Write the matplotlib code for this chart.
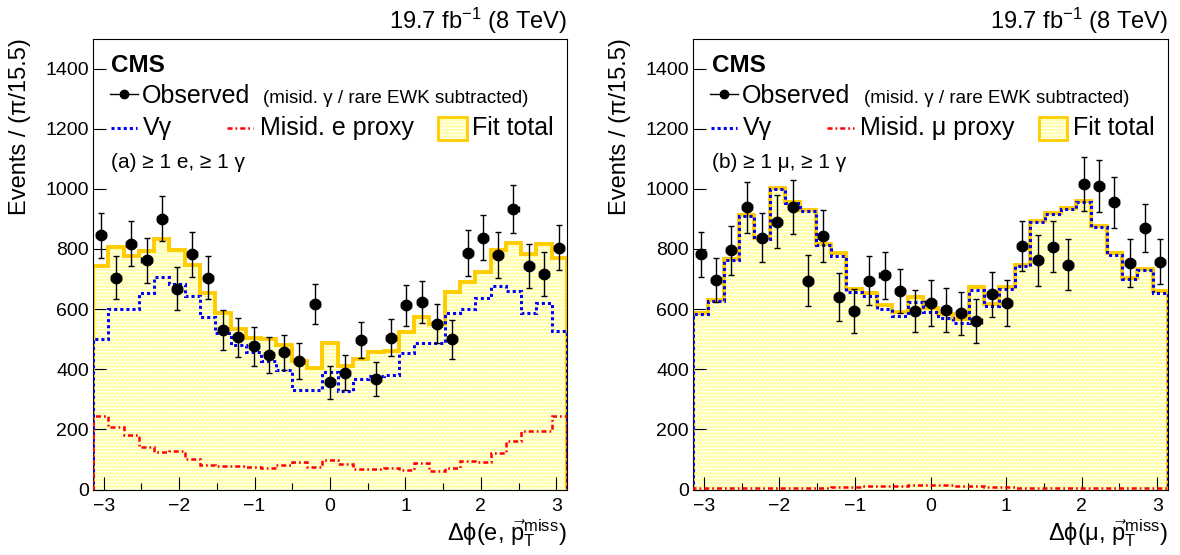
import numpy as np
import matplotlib
matplotlib.use("Agg")
import matplotlib.pyplot as plt
from matplotlib.ticker import MultipleLocator
from matplotlib.patches import Rectangle
from matplotlib.lines import Line2D

plt.rcParams["font.family"] = ["Liberation Sans", "DejaVu Sans"]
plt.rcParams["mathtext.fontset"] = "custom"
plt.rcParams["mathtext.rm"] = "Liberation Sans"
plt.rcParams["mathtext.it"] = "Liberation Sans:italic"
plt.rcParams["mathtext.bf"] = "Liberation Sans:bold"
plt.rcParams["hatch.linewidth"] = 1.2

# 31 bins in dphi, width pi/15.5
N_BINS = 31

# (a) electron channel
obs_e = [846, 704, 818, 763, 901, 668, 783, 705, 530, 507, 476, 448, 456, 427, 617, 356,
         389, 497, 368, 505, 612, 624, 552, 500, 786, 838, 779, 934, 742, 717, 804]
err_e = [75, 72, 75, 75, 76, 72, 75, 72, 67, 65, 64, 60, 59, 59, 66, 55,
         58, 61, 57, 62, 68, 69, 66, 65, 76, 76, 76, 80, 73, 74, 75]
fit_e = [743, 806, 778, 794, 832, 796, 748, 654, 588, 534, 504, 501, 482, 427, 405, 486,
         410, 435, 457, 459, 523, 573, 552, 656, 691, 724, 797, 820, 784, 816, 771]
vg_e = [499, 599, 599, 652, 706, 682, 645, 574, 519, 482, 457, 427, 399, 332, 330, 390,
        326, 366, 377, 382, 455, 488, 488, 588, 599, 637, 676, 660, 588, 621, 527]
mis_e = [244, 207, 181, 140, 126, 129, 103, 81, 78, 78, 76, 72, 83, 92, 76, 98,
         84, 68, 68, 72, 64, 89, 61, 70, 94, 92, 122, 161, 194, 196, 244]

# (b) muon channel
obs_m = [783, 696, 795, 938, 838, 890, 939, 695, 844, 639, 593, 695, 713, 660, 594, 621,
         597, 586, 560, 650, 621, 810, 763, 808, 748, 1015, 1010, 956, 753, 869, 757]
err_m = [75, 74, 83, 85, 83, 88, 89, 85, 86, 80, 73, 81, 78, 74, 71, 76,
         73, 72, 74, 75, 76, 83, 85, 85, 85, 90, 86, 85, 79, 79, 75]
fit_m = [587, 631, 766, 914, 838, 1004, 956, 931, 818, 785, 666, 653, 613, 589, 639, 604,
         585, 567, 675, 618, 673, 747, 893, 920, 937, 959, 876, 785, 703, 733, 659]
vg_m = [583, 627, 762, 910, 834, 1000, 952, 926, 812, 778, 658, 643, 601, 576, 624, 589,
        571, 554, 664, 609, 666, 742, 889, 916, 933, 955, 872, 781, 699, 729, 655]
mis_m = [4, 4, 4, 4, 4, 4, 4, 5, 6, 7, 8, 10, 12, 13, 15, 15,
         14, 13, 11, 9, 7, 5, 4, 4, 4, 4, 4, 4, 4, 4, 4]

LUMI = "19.7 fb$^{-1}$ (8 TeV)"
YLABEL = "Events / (\u03c0/15.5)"

YELLOW = "#ffcc00"
FILL_FACE = "#fffff2"
FILL_DOTS = "#ffff70"


def draw_panel(ax, obs, err, fit, vg, mis, lep, proxy, tag):
    edges = np.linspace(-np.pi, np.pi, N_BINS + 1)
    centers = 0.5 * (edges[1:] + edges[:-1])
    bw = edges[1] - edges[0]

    ax.stairs(fit, edges, fill=True, facecolor=FILL_FACE, edgecolor=FILL_DOTS,
              hatch=".....", linewidth=0, zorder=1)
    ax.stairs(fit, edges, color=YELLOW, lw=2.8, zorder=2)
    ax.stairs(vg, edges, color="#0000ff", lw=2.2, ls=(0, (1, 1)), zorder=3)
    ax.stairs(mis, edges, color="#ff0000", lw=1.8, ls=(0, (2, 1.2, 0.7, 1.2)), zorder=3)
    ax.errorbar(centers, obs, yerr=err, xerr=0.33 * bw, fmt="o", color="black",
                ms=7.5, elinewidth=1.0, capsize=2.5, capthick=1.0, zorder=5)

    ax.set_xlim(-np.pi, np.pi)
    ax.set_ylim(0, 1500)
    ax.xaxis.set_major_locator(MultipleLocator(1))
    ax.xaxis.set_minor_locator(MultipleLocator(0.5))
    ax.yaxis.set_major_locator(MultipleLocator(200))
    ax.tick_params(which="both", direction="in", top=False, right=False,
                   labelsize=14, width=0.8)
    ax.tick_params(which="major", length=9.5)
    ax.tick_params(which="minor", length=5)
    ax.tick_params(axis="x", pad=6)
    ax.tick_params(axis="y", pad=3)
    for s in ax.spines.values():
        s.set_linewidth(0.8)

    ax.set_ylabel(YLABEL, loc="top", fontsize=17, labelpad=10)
    ax.set_xlabel("\u0394\u03d5(" + lep + ", $\\vec{\\mathrm{p}}_{\\mathrm{T}}^{\\mathrm{miss}}$)",
                  loc="right", fontsize=17, labelpad=2)
    ax.text(1.0, 1.021, LUMI, transform=ax.transAxes, ha="right", va="baseline", fontsize=17)

    # legend block (ROOT-style, hand placed)
    tr = ax.transAxes
    ax.text(0.039, 0.926, "CMS", transform=tr, fontsize=17.5, fontweight="bold", va="baseline")
    ax.add_line(Line2D([0.036, 0.095], [0.877, 0.877], transform=tr, color="black", lw=1))
    ax.add_line(Line2D([0.066], [0.877], transform=tr, color="black", marker="o", ms=6))
    ax.text(0.103, 0.858, "Observed", transform=tr, fontsize=18, va="baseline")
    ax.text(0.359, 0.858, "(misid. \u03b3 / rare EWK subtracted)", transform=tr,
            fontsize=13.5, va="baseline")
    ax.add_line(Line2D([0.037, 0.092], [0.801, 0.801], transform=tr, color="#0000ff",
                       lw=2.2, ls=(0, (1, 1))))
    ax.text(0.106, 0.786, "V\u03b3", transform=tr, fontsize=18, va="baseline")
    ax.add_line(Line2D([0.282, 0.338], [0.801, 0.801], transform=tr, color="#ff0000",
                       lw=1.8, ls=(0, (2, 1.2, 0.7, 1.2))))
    ax.text(0.352, 0.786, proxy, transform=tr, fontsize=18, va="baseline")
    ax.add_patch(Rectangle((0.728, 0.775), 0.06, 0.05, transform=tr, facecolor=FILL_FACE,
                           edgecolor=FILL_DOTS, hatch=".....", lw=0))
    ax.add_patch(Rectangle((0.728, 0.775), 0.06, 0.05, transform=tr, facecolor="none",
                           edgecolor=YELLOW, lw=2))
    ax.text(0.799, 0.786, "Fit total", transform=tr, fontsize=18, va="baseline")
    ax.text(0.039, 0.712, tag, transform=tr, fontsize=15, va="baseline")


fig = plt.figure(figsize=(11.8, 5.55), dpi=100)
bottom = 1 - 489.5 / 555
height = 451 / 555
ax1 = fig.add_axes([93 / 1180, bottom, 474 / 1180, height])
ax2 = fig.add_axes([693 / 1180, bottom, 475 / 1180, height])

draw_panel(ax1, obs_e, err_e, fit_e, vg_e, mis_e, "e", "Misid. e proxy",
           "(a) \u2265 1 e, \u2265 1 \u03b3")
draw_panel(ax2, obs_m, err_m, fit_m, vg_m, mis_m, "\u03bc", "Misid. \u03bc proxy",
           "(b) \u2265 1 \u03bc, \u2265 1 \u03b3")

fig.savefig("out.png", dpi=100)
